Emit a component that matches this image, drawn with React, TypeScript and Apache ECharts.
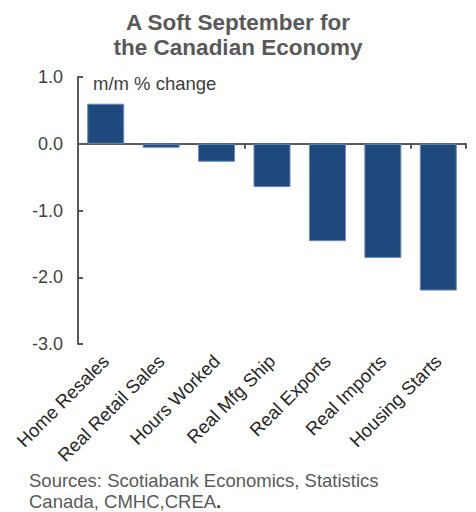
import React, { useEffect, useRef } from "react";
import * as echarts from "echarts";

const categories = ["Home Resales", "Real Retail Sales", "Hours Worked", "Real Mfg Ship", "Real Exports", "Real Imports", "Housing Starts"];
const values = [0.6, -0.06, -0.27, -0.65, -1.46, -1.71, -2.2];
const titleLines = ["A Soft September for", "the Canadian Economy"];
const unitLabel = "m/m % change";
const sourceLines = ["Sources: Scotiabank Economics, Statistics", "Canada, CMHC,CREA", "."];

const FONT = "'Liberation Sans', Arial, sans-serif";

export default function App() {
  const ref = useRef<HTMLDivElement>(null);
  useEffect(() => {
    document.body.style.margin = "0";
    if (!ref.current) return;
    const chart = echarts.init(ref.current, null, { renderer: "svg" });
    chart.setOption({
      animation: false,
      backgroundColor: "#ffffff",
      textStyle: { fontFamily: FONT },
      title: {
        text: titleLines.join("\n"),
        left: "center",
        top: 5,
        textStyle: { fontFamily: FONT, fontSize: 22.5, fontWeight: "bold", color: "#595959", lineHeight: 25 },
      },
      grid: { left: 78, right: 10, top: 77, bottom: 168, containLabel: false },
      xAxis: [
        {
          type: "category",
          data: categories,
          axisLine: { onZero: true, lineStyle: { color: "#595959", width: 2 } },
          axisTick: { show: true, inside: false, length: 5, lineStyle: { color: "#595959", width: 2 } },
          axisLabel: { show: false },
        },
        {
          type: "category",
          data: categories,
          position: "bottom",
          axisLine: { show: false, onZero: false },
          axisTick: { show: false },
          axisLabel: { show: true, rotate: 45, margin: 14, fontSize: 18.5, color: "#262626", fontFamily: FONT, interval: 0 },
        },
      ],
      yAxis: {
        type: "value",
        min: -3,
        max: 1,
        interval: 1,
        splitLine: { show: false },
        axisLine: { show: true, lineStyle: { color: "#595959", width: 2 } },
        axisTick: { show: true, inside: true, length: 5, lineStyle: { color: "#595959", width: 2 } },
        axisLabel: { formatter: (v: number) => v.toFixed(1), fontSize: 18, color: "#404040", margin: 15, fontFamily: FONT },
      },
      graphic: [
        {
          type: "text",
          left: 93,
          top: 74,
          style: { text: unitLabel, fontSize: 18.5, fill: "#404040", fontFamily: FONT },
        },
        {
          type: "text",
          left: 29,
          top: 470,
          style: {
            text: `{n|${sourceLines[0]}}\n{n|${sourceLines[1]}}{b|${sourceLines[2]}}`,
            fontSize: 18.5,
            lineHeight: 21,
            fill: "#595959",
            fontFamily: FONT,
            rich: {
              n: { fontSize: 18.5, lineHeight: 21, fill: "#595959", fontFamily: FONT },
              b: { fontSize: 18.5, lineHeight: 21, fill: "#404040", fontWeight: "bold", fontFamily: FONT },
            },
          },
        },
      ],
      series: [
        {
          type: "bar",
          xAxisIndex: 0,
          data: values,
          barWidth: 37,
          itemStyle: { color: "#1F497D", borderColor: "#6a8bb3", borderWidth: 1 },
        },
      ],
    });
    return () => chart.dispose();
  }, []);
  return <div ref={ref} style={{ width: 476, height: 512 }} />;
}
